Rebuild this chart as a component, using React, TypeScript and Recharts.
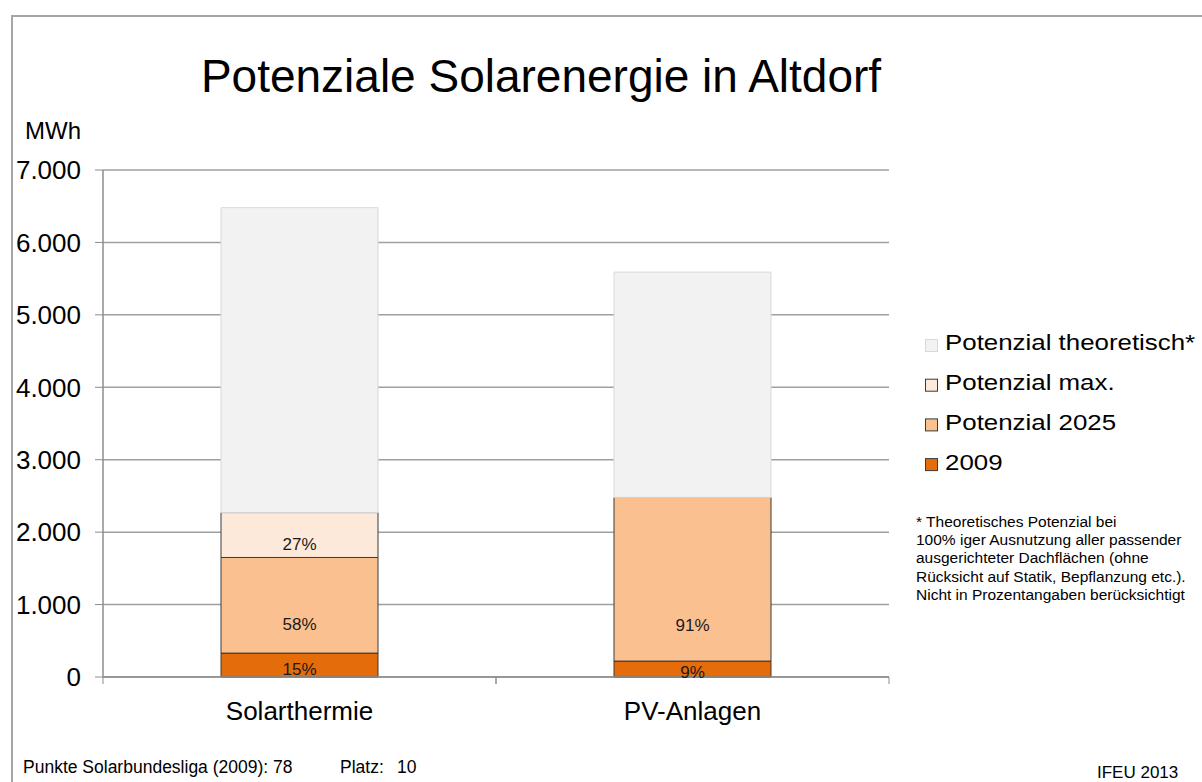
import { BarChart, Bar, XAxis, YAxis, CartesianGrid, LabelList } from "recharts";

const categories = ["Solarthermie", "PV-Anlagen"];
const werte2009 = [330, 220];
const werte2025 = [1320, 2260];
const werteMax = [620, 0];
const werteTheor = [4210, 3110];
const anteil2009 = ["15%", "9%"];
const anteil2025 = ["58%", "91%"];
const anteilMax = ["27%", ""];
const yTicks = [0, 1000, 2000, 3000, 4000, 5000, 6000, 7000];

const legendItems = [
  { label: "Potenzial theoretisch*", fill: "#F2F2F2", stroke: "#D9D9D9" },
  { label: "Potenzial max.", fill: "#FDE9D9", stroke: "#3a3a3a" },
  { label: "Potenzial 2025", fill: "#FAC090", stroke: "#3a3a3a" },
  { label: "2009", fill: "#E46C0A", stroke: "#3a3a3a" },
];

const fussnote = [
  "* Theoretisches Potenzial bei",
  "100% iger Ausnutzung aller passender",
  "ausgerichteter Dachflächen (ohne",
  "Rücksicht auf Statik, Bepflanzung etc.).",
  "Nicht in Prozentangaben berücksichtigt",
];

const FONT = '"Liberation Sans", Arial, sans-serif';
const W = 1202;
const H = 782;
const PLOT_LEFT = 103;
const PLOT_RIGHT = 889;
const PLOT_TOP = 170;
const PLOT_BOTTOM = 677;
const X_AXIS_H = 60;

const rows = categories.map((name, i) => ({
  name,
  v2009: werte2009[i],
  v2025: werte2025[i],
  vMax: werteMax[i],
  vTheor: werteTheor[i],
  p2009: anteil2009[i],
  p2025: anteil2025[i],
  pMax: anteilMax[i],
}));

const formatDe = (v: number) =>
  v >= 1000 ? `${Math.floor(v / 1000)}.${String(v % 1000).padStart(3, "0")}` : String(v);

function PctLabel(props: any) {
  const { x, y, width, height, value } = props;
  if (!value) return null;
  const off = Math.min(height * 0.3, 36);
  return (
    <text
      x={x + width / 2}
      y={y + height - off}
      textAnchor="middle"
      dominantBaseline="central"
      fontSize={17}
      fontFamily={FONT}
      fill="#1a1a1a"
    >
      {value}
    </text>
  );
}

function CatTick(props: any) {
  const { x, y, payload } = props;
  const half = (PLOT_RIGHT - PLOT_LEFT) / categories.length / 2;
  return (
    <g>
      <line x1={x - half} x2={x - half} y1={y} y2={y + 7} stroke="#8C8C8C" />
      <line x1={x + half} x2={x + half} y1={y} y2={y + 7} stroke="#8C8C8C" />
      <text x={x} y={y + 43} textAnchor="middle" fontSize={26} fontFamily={FONT} fill="#000">
        {payload.value}
      </text>
    </g>
  );
}

export default function App() {
  return (
    <div
      style={{
        position: "absolute",
        left: 0,
        top: 0,
        width: W,
        height: H,
        overflow: "hidden",
        background: "#fff",
        fontFamily: FONT,
      }}
    >
      <div
        style={{
          position: "absolute",
          left: 11,
          top: 15,
          width: 1260,
          height: 820,
          border: "2px solid #A6A6A6",
        }}
      />
      <div style={{ position: "absolute", left: 0, top: 0 }}>
        <BarChart
          width={W}
          height={H}
          data={rows}
          margin={{
            top: PLOT_TOP,
            left: 0,
            right: W - PLOT_RIGHT,
            bottom: H - PLOT_BOTTOM - X_AXIS_H,
          }}
        >
          <CartesianGrid vertical={false} stroke="#A0A0A0" strokeWidth={1.5} />
          <XAxis
            dataKey="name"
            height={X_AXIS_H}
            tickLine={false}
            tickSize={0}
            tickMargin={0}
            axisLine={{ stroke: "#8C8C8C", strokeWidth: 1.5 }}
            tick={<CatTick />}
            interval={0}
          />
          <YAxis
            width={PLOT_LEFT}
            domain={[0, 7000]}
            ticks={yTicks}
            interval={0}
            tickFormatter={formatDe}
            tickSize={8}
            tickMargin={14}
            tickLine={{ stroke: "#8C8C8C" }}
            axisLine={{ stroke: "#8C8C8C", strokeWidth: 1.5 }}
            tick={{ fill: "#000", fontSize: 26, fontFamily: FONT }}
          />
          <Bar dataKey="v2009" stackId="a" fill="#E46C0A" stroke="#3a3a3a" barSize={157} isAnimationActive={false}>
            <LabelList dataKey="p2009" content={<PctLabel />} />
          </Bar>
          <Bar dataKey="v2025" stackId="a" fill="#FAC090" stroke="#3a3a3a" barSize={157} isAnimationActive={false}>
            <LabelList dataKey="p2025" content={<PctLabel />} />
          </Bar>
          <Bar dataKey="vMax" stackId="a" fill="#FDE9D9" stroke="#3a3a3a" barSize={157} isAnimationActive={false}>
            <LabelList dataKey="pMax" content={<PctLabel />} />
          </Bar>
          <Bar dataKey="vTheor" stackId="a" fill="#F2F2F2" stroke="#D9D9D9" barSize={157} isAnimationActive={false} />
        </BarChart>
      </div>
      <svg
        width={W}
        height={H}
        style={{ position: "absolute", left: 0, top: 0, pointerEvents: "none" }}
        fontFamily={FONT}
      >
        <text x={541} y={92} textAnchor="middle" fontSize={46} fill="#000">
          Potenziale Solarenergie in Altdorf
        </text>
        <text x={25} y={139} fontSize={24} fill="#000">
          MWh
        </text>
        {legendItems.map((item, i) => {
          const base = 350.5 + i * 39.7;
          return (
            <g key={item.label}>
              <rect x={925.5} y={base - 11} width={12} height={12} fill={item.fill} stroke={item.stroke} />
              <text
                x={0}
                y={base}
                fontSize={22.5}
                fill="#000"
                transform={`translate(945 0) scale(1.15 1)`}
              >
                {item.label}
              </text>
            </g>
          );
        })}
        {fussnote.map((line, i) => (
          <text key={i} x={916} y={527 + i * 18.2} fontSize={15.5} fill="#000">
            {line}
          </text>
        ))}
        <text x={23} y={773} fontSize={17.5} fill="#000">
          Punkte Solarbundesliga (2009): 78
        </text>
        <text x={340} y={773} fontSize={17.5} fill="#000">
          Platz:
        </text>
        <text x={397} y={773} fontSize={17.5} fill="#000">
          10
        </text>
        <text x={1097} y={778} fontSize={17} fill="#000">
          IFEU 2013
        </text>
      </svg>
    </div>
  );
}
